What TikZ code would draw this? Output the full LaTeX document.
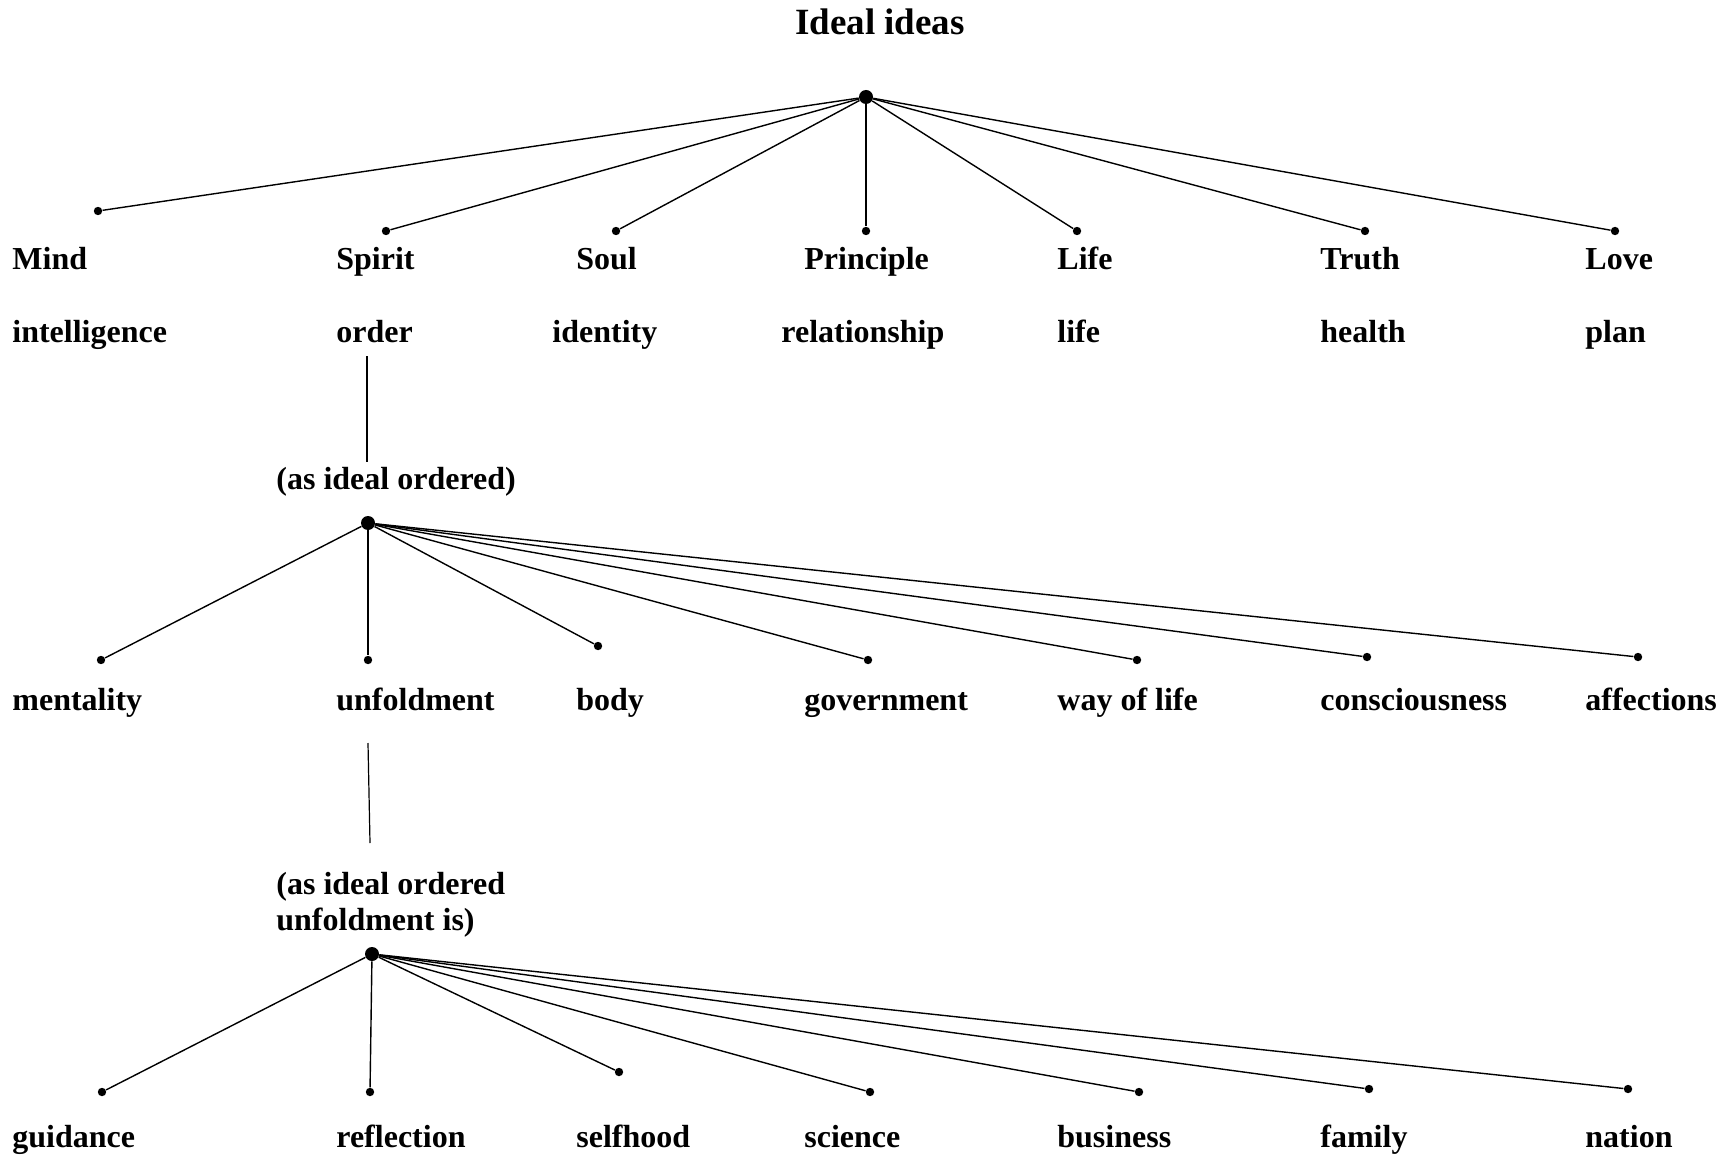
\documentclass[tikz,border=0pt]{standalone}
\usepackage{fontspec}
\setmainfont{Liberation Serif}
\usepackage{tikz}

\tikzset{
  hub/.style={circle, fill=black, inner sep=0pt, minimum size=7pt},
  leaf/.style={circle, fill=black, inner sep=0pt, minimum size=4.2pt},
  lbl/.style={anchor=base west, inner sep=0pt, font=\fontsize{16}{18}\selectfont\bfseries, align=left},
  twig/.style={line width=0.7pt},
}

\begin{document}
\begin{tikzpicture}[x=0.5pt, y=-0.5pt]
\useasboundingbox (0,0) rectangle (1734,1155);

\node[anchor=base, inner sep=0pt, font=\fontsize{18.5}{22}\selectfont\bfseries] (title) at (880,35) {Ideal ideas};

% first level
\node[hub] (top) at (866,97) {};
\node[leaf] (dMind) at (98,211) {};
\node[leaf] (dSpirit) at (386,231) {};
\node[leaf] (dSoul) at (616,231) {};
\node[leaf] (dPrinciple) at (866,231) {};
\node[leaf] (dLife) at (1077,231) {};
\node[leaf] (dTruth) at (1365,231) {};
\node[leaf] (dLove) at (1615,231) {};

\node[lbl] (mind) at (12,270) {Mind};
\node[lbl] (spirit) at (336,270) {Spirit};
\node[lbl] (soul) at (576,270) {Soul};
\node[lbl] (principle) at (804,270) {Principle};
\node[lbl] (life) at (1057,270) {Life};
\node[lbl] (truth) at (1320,270) {Truth};
\node[lbl] (love) at (1585,270) {Love};

\node[lbl] (intelligence) at (12,343) {intelligence};
\node[lbl] (order) at (336,343) {order};
\node[lbl] (identity) at (552,343) {identity};
\node[lbl] (relationship) at (781,343) {relationship};
\node[lbl] (lifeb) at (1057,343) {life};
\node[lbl] (health) at (1320,343) {health};
\node[lbl] (plan) at (1585,343) {plan};

\foreach \d in {dMind,dSpirit,dSoul,dPrinciple,dLife,dTruth,dLove}
  \draw[twig] (top) -- (\d);

% second level
\coordinate (orderfoot) at (367,356);
\node[lbl] (asord) at (276,489) {(as ideal ordered)};
\coordinate (asordtop) at (367,462);
\draw[line width=0.6pt] (orderfoot) -- (asordtop);

\node[hub] (mid) at (368,523) {};
\node[leaf] (dMentality) at (101,660) {};
\node[leaf] (dUnfoldment) at (368,660) {};
\node[leaf] (dBody) at (598,646) {};
\node[leaf] (dGovernment) at (868,660) {};
\node[leaf] (dWay) at (1137,660) {};
\node[leaf] (dConsciousness) at (1367,657) {};
\node[leaf] (dAffections) at (1638,657) {};

\node[lbl] (mentality) at (12,710) {mentality};
\node[lbl] (unfoldment) at (336,710) {unfoldment};
\node[lbl] (body) at (576,710) {body};
\node[lbl] (government) at (804,710) {government};
\node[lbl] (wayoflife) at (1057,710) {way of life};
\node[lbl] (consciousness) at (1320,710) {consciousness};
\node[lbl] (affections) at (1585,710) {affections};

\foreach \d in {dMentality,dUnfoldment,dBody,dGovernment,dWay,dConsciousness,dAffections}
  \draw[twig] (mid) -- (\d);

% third level
\coordinate (unfoot) at (368,743);
\node[lbl] (asunf) at (276,930) {(as ideal ordered\\unfoldment is)};
\coordinate (asunftop) at (370,843);
\draw[line width=0.6pt] (unfoot) -- (asunftop);

\node[hub] (low) at (372,954) {};
\node[leaf] (dGuidance) at (102,1092) {};
\node[leaf] (dReflection) at (370,1092) {};
\node[leaf] (dSelfhood) at (619,1072) {};
\node[leaf] (dScience) at (870,1092) {};
\node[leaf] (dBusiness) at (1139,1092) {};
\node[leaf] (dFamily) at (1369,1089) {};
\node[leaf] (dNation) at (1628,1089) {};

\node[lbl] (guidance) at (12,1147) {guidance};
\node[lbl] (reflection) at (336,1147) {reflection};
\node[lbl] (selfhood) at (576,1147) {selfhood};
\node[lbl] (science) at (804,1147) {science};
\node[lbl] (business) at (1057,1147) {business};
\node[lbl] (family) at (1320,1147) {family};
\node[lbl] (nation) at (1585,1147) {nation};

\foreach \d in {dGuidance,dReflection,dSelfhood,dScience,dBusiness,dFamily,dNation}
  \draw[twig] (low) -- (\d);
\end{tikzpicture}
\end{document}
